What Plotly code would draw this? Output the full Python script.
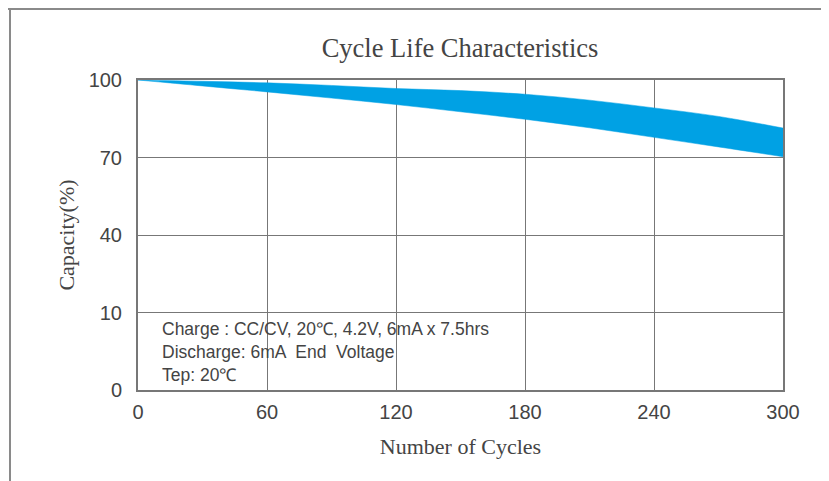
import numpy as np
import plotly.graph_objects as go

# ---- data ----
cycles = [0, 30, 60, 90, 120, 150, 180, 210, 240, 270, 300]
capacity_upper = [100, 99.5, 98.9, 97.9, 96.7, 95.9, 94.5, 92.2, 89.2, 85.9, 81.4]
capacity_lower = [100, 97.7, 95.4, 93.0, 90.5, 87.7, 84.8, 81.5, 77.8, 74.1, 70.3]

x_ticks = [0, 60, 120, 180, 240, 300]
y_tick_values = [0, 10, 40, 70, 100]          # equally spaced on the chart
y_positions = list(range(len(y_tick_values)))

note_lines = [
    "Charge : CC/CV, 20℃, 4.2V, 6mA x 7.5hrs",
    "Discharge: 6mA  End  Voltage",
    "Tep: 20℃",
]

# non-linear (piecewise) capacity scale used by the original figure
def to_axis(v):
    return np.interp(v, y_tick_values, y_positions)

band_color = "rgb(0,161,228)"
grid_color = "#777777"
text_color = "#444444"

# the page body adds an 8px offset, so the figure is 8px smaller
W, H = 821, 473
ML, MT, MR, MB = 130, 72, 46, 91
PW, PH = W - ML - MR, H - MT - MB   # 645 x 310 plot area

fig = go.Figure()
fig.add_trace(go.Scatter(
    x=cycles, y=to_axis(capacity_lower), mode="lines",
    line=dict(color=band_color, width=0.5, shape="spline"),
    hoverinfo="skip", showlegend=False))
fig.add_trace(go.Scatter(
    x=cycles, y=to_axis(capacity_upper), mode="lines",
    line=dict(color=band_color, width=0.5, shape="spline"),
    fill="tonexty", fillcolor=band_color,
    hoverinfo="skip", showlegend=False))

fig.update_layout(
    width=W, height=H,
    margin=dict(l=ML, r=MR, t=MT, b=MB),
    paper_bgcolor="white", plot_bgcolor="white",
    title=dict(text="Cycle Life Characteristics", x=452 / W, xanchor="center",
               y=1 - 40 / H, yanchor="middle",
               font=dict(family="Liberation Serif", size=26.5, color=text_color)),
    xaxis=dict(range=[0, 300], tickvals=x_ticks, ticktext=[str(t) for t in x_ticks],
               showgrid=True, gridcolor=grid_color, gridwidth=1.3,
               showline=True, linecolor=grid_color, linewidth=2, mirror=True,
               zeroline=False, ticks="", ticklabelstandoff=3,
               tickfont=dict(family="Liberation Sans", size=20, color=text_color),
               title=dict(text="Number of Cycles", standoff=17,
                          font=dict(family="Liberation Serif", size=22, color=text_color))),
    yaxis=dict(range=[0, 4], tickvals=y_positions, ticktext=[str(v) for v in y_tick_values],
               showgrid=True, gridcolor=grid_color, gridwidth=1.3,
               showline=True, linecolor=grid_color, linewidth=2, mirror=True,
               zeroline=False, ticks="", ticklabelstandoff=10,
               tickfont=dict(family="Liberation Sans", size=20, color=text_color),
               title=dict(text="Capacity(%)", standoff=8,
                          font=dict(family="Liberation Serif", size=22, color=text_color))),
)

fig.add_annotation(
    xref="paper", yref="paper", x=(160 - 138) / PW, y=(390 - 317) / PH,
    xanchor="left", yanchor="top", align="left", showarrow=False,
    text="<br>".join(note_lines),
    font=dict(family="Liberation Sans", size=17.5, color=text_color))

# outer frame lines (left and top) of the original picture (page coords -> plot paper)
frame_color = "#8a8a8a"
fig.add_shape(type="line", xref="paper", yref="paper",
              x0=(10 - 138) / PW, x1=(10 - 138) / PW,
              y0=(390 - 9) / PH, y1=(390 - 490) / PH,
              line=dict(color=frame_color, width=2))
fig.add_shape(type="line", xref="paper", yref="paper",
              x0=(5 - 138) / PW, x1=(840 - 138) / PW,
              y0=(390 - 9) / PH, y1=(390 - 9) / PH,
              line=dict(color=frame_color, width=2))

fig.write_html("out.html")
